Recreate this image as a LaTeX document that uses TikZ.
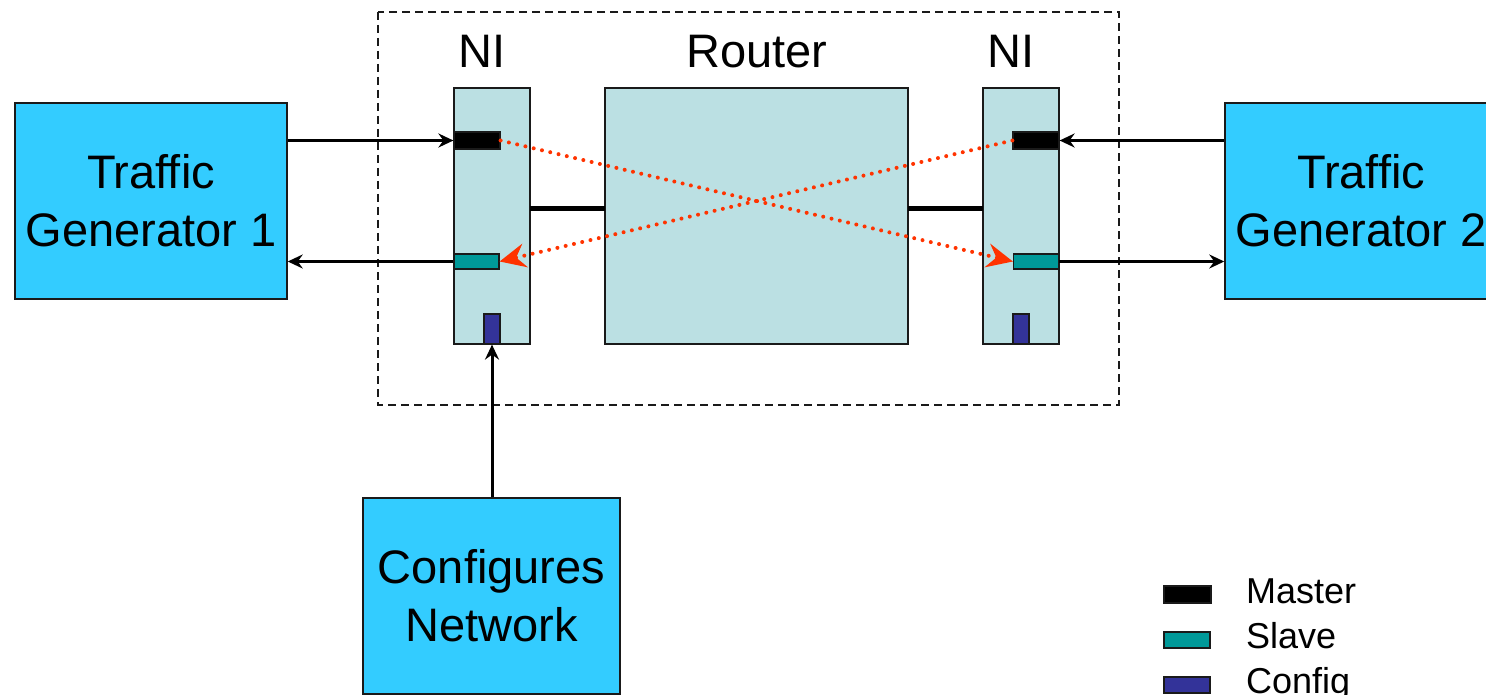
\documentclass[tikz,border=0pt]{standalone}
\usepackage{fontspec}
\setmainfont{Liberation Sans}
\usetikzlibrary{arrows.meta}
\definecolor{tgblue}{HTML}{33CCFF}
\definecolor{nifill}{HTML}{BBE0E3}
\definecolor{slavecol}{HTML}{009999}
\definecolor{configcol}{HTML}{333399}
\definecolor{flowred}{HTML}{FF3300}
\definecolor{edge}{HTML}{1A1A1A}
\tikzset{
  bigtext/.style={font=\fontsize{47}{58}\selectfont},
  legtext/.style={font=\fontsize{36}{43}\selectfont, anchor=base west, inner sep=0pt},
  genbox/.style={draw=edge, line width=1.5pt, fill=tgblue, rectangle, inner sep=0pt,
    align=center, bigtext},
  nibox/.style={draw=edge, line width=1.5pt, fill=nifill, rectangle, inner sep=0pt},
  port/.style={draw=edge, line width=1.2pt, rectangle, inner sep=0pt},
  masterport/.style={port, fill=black, minimum width=46pt, minimum height=17pt},
  slaveport/.style={port, fill=slavecol, minimum width=45pt, minimum height=15pt},
  configport/.style={port, fill=configcol, minimum width=16pt, minimum height=30pt},
  link/.style={line width=3pt, -{Stealth[length=15pt,width=14pt,inset=5pt]}},
  flow/.style={flowred, line width=4pt, line cap=round, dash pattern=on 0pt off 8.5pt,
    -{Stealth[length=26pt,width=24pt,inset=9pt]}},
  title/.style={bigtext, anchor=base, inner sep=0pt},
}
\begin{document}
\begin{tikzpicture}[x=1pt, y=-1pt]
\useasboundingbox (0,0) rectangle (1486,695);
\clip (0,0) rectangle (1486,695);

% enclosing network tile
\draw[edge, line width=1.5pt, dash pattern=on 8pt off 5pt] (378,12) rectangle (1119,405);

% traffic generators and configuration master
\node[genbox, minimum width=272pt, minimum height=196pt] (tg1) at (151,201) {Traffic\\Generator 1};
\node[genbox, minimum width=272pt, minimum height=196pt] (tg2) at (1361,201) {Traffic\\Generator 2};
\node[genbox, minimum width=257pt, minimum height=196pt] (cfg) at (491.5,596) {Configures\\Network};

% network interfaces and router
\node[nibox, minimum width=76pt, minimum height=256pt] (nil) at (492,216) {};
\node[nibox, minimum width=303pt, minimum height=256pt] (rt) at (756.5,216) {};
\node[nibox, minimum width=76pt, minimum height=256pt] (nir) at (1021,216) {};

\node[title] (nilt) at (482,68) {NI};
\node[title] (rtt) at (757,68) {Router};
\node[title] (nirt) at (1011,68) {NI};

% ports
\node[masterport] (ml) at (477,140.5) {};
\node[slaveport] (sl) at (476.5,261.5) {};
\node[configport] (cl) at (492,329) {};
\node[masterport] (mr) at (1036,140.5) {};
\node[slaveport] (sr) at (1036,261.5) {};
\node[configport] (cr) at (1021,329) {};

% links between interfaces and router
\coordinate (lka) at (530,209);
\coordinate (lkb) at (605,209);
\coordinate (lkc) at (908,209);
\coordinate (lkd) at (983,209);
\draw[line width=5pt] (lka) -- (lkb);
\draw[line width=5pt] (lkc) -- (lkd);

% generator connections
\draw[link] (tg1.east |- ml.west) -- (ml.west);
\draw[link] (sl.west) -- (tg1.east |- sl.west);
\draw[link] (tg2.west |- mr.east) -- (mr.east);
\draw[link] (sr.east) -- (tg2.west |- sr.east);
\draw[link] (cfg.north -| cl.south) -- (cl.south);

% end-to-end connections through the router
\draw[flow] (ml.east) -- (sr.west);
\draw[flow] (mr.west) -- (sl.east);

% legend
\node[port, fill=black, minimum width=47pt, minimum height=17pt] (lgm) at (1187.5,594.5) {};
\node[slaveport, minimum width=46pt, minimum height=16pt] (lgs) at (1187,640) {};
\node[port, fill=configcol, minimum width=46pt, minimum height=16pt] (lgc) at (1187,685) {};
\node[legtext] (lgmt) at (1246,603) {Master};
\node[legtext] (lgst) at (1246,648) {Slave};
\node[legtext] (lgct) at (1246,693) {Config};
\end{tikzpicture}
\end{document}
